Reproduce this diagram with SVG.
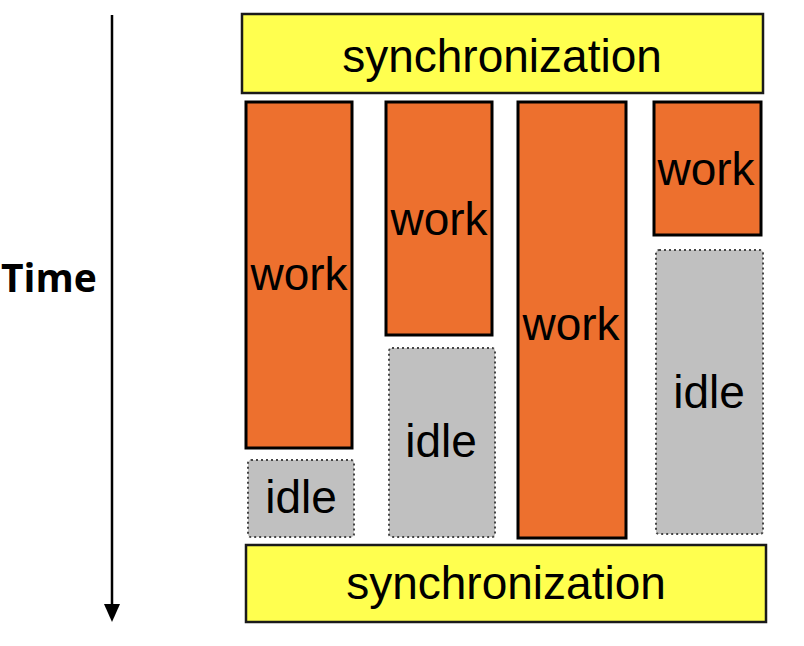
<svg xmlns="http://www.w3.org/2000/svg" width="804" height="646" viewBox="0 0 804 646">
<defs>
<style>
.sync{fill:#ffff4f;stroke:#1a1a1a;stroke-width:2.5}
.work{fill:#ed702e;stroke:#000;stroke-width:3}
.idle{fill:#c0c0c0;stroke:#444;stroke-width:2;stroke-dasharray:2 3}
.lbl{font-family:"Liberation Sans",Arial,sans-serif;font-size:46px;fill:#000;text-anchor:middle}
.time{font-family:"Open Sans","Liberation Sans",sans-serif;font-weight:bold;font-size:39px;fill:#000}
</style>
</defs>
<rect width="804" height="646" fill="#fff"/>
<g id="connectors">
<line x1="112" y1="15" x2="112" y2="606" stroke="#000" stroke-width="2.5"/>
<path d="M104,604 L120,604 L112,622 z" fill="#000"/>
</g>
<g id="time-label"><text class="time" x="1" y="292">Time</text></g>
<g id="sync-top"><rect class="sync" x="242" y="14" width="521" height="79"/><text class="lbl" x="502" y="72">synchronization</text></g>
<g id="work1"><rect class="work" x="246" y="102" width="106" height="346"/><text class="lbl" x="299" y="290">work</text></g>
<g id="idle1"><rect class="idle" x="248" y="460" width="106" height="77" rx="3"/><text class="lbl" x="301" y="513">idle</text></g>
<g id="work2"><rect class="work" x="386" y="102" width="106" height="233"/><text class="lbl" x="439" y="235">work</text></g>
<g id="idle2"><rect class="idle" x="389" y="348" width="106" height="189" rx="3"/><text class="lbl" x="441" y="457">idle</text></g>
<g id="work3"><rect class="work" x="518" y="102" width="108" height="436"/><text class="lbl" x="571" y="340">work</text></g>
<g id="work4"><rect class="work" x="654" y="102" width="107" height="133"/><text class="lbl" x="706" y="185">work</text></g>
<g id="idle4"><rect class="idle" x="656" y="250" width="107" height="284" rx="3"/><text class="lbl" x="709" y="408">idle</text></g>
<g id="sync-bottom"><rect class="sync" x="246" y="545" width="520" height="77"/><text class="lbl" x="506" y="599">synchronization</text></g>
</svg>
